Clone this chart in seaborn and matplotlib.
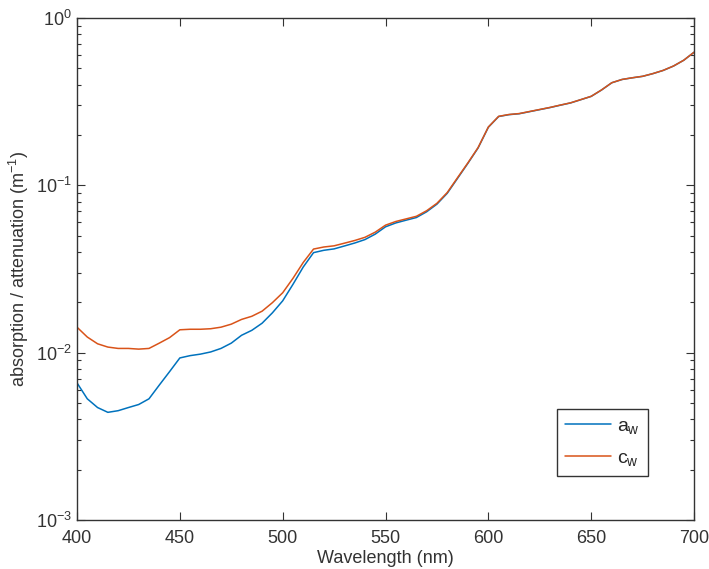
import numpy as np
import pandas as pd
import matplotlib
matplotlib.use("Agg")
from matplotlib import pyplot as plt
import seaborn as sns

wavelength = list(range(400, 705, 5))

a_w = [0.0066, 0.0053, 0.0047, 0.0044, 0.0045, 0.0047, 0.0049, 0.0053, 0.0064, 0.0077,
       0.0093, 0.0096, 0.0098, 0.0101, 0.0106, 0.0114, 0.0127, 0.0136, 0.0150, 0.0173,
       0.0204, 0.0256, 0.0325, 0.0396, 0.0409, 0.0417, 0.0434, 0.0452, 0.0474, 0.0511,
       0.0565, 0.0596, 0.0619, 0.0642, 0.0695, 0.0772, 0.0896, 0.110, 0.1351, 0.1672,
       0.2224, 0.2577, 0.2644, 0.2678, 0.2755, 0.2834, 0.2916, 0.3012, 0.3108, 0.325,
       0.340, 0.371, 0.410, 0.429, 0.439, 0.448, 0.465, 0.486, 0.516, 0.559, 0.624]

c_w = [0.0142, 0.0124, 0.0113, 0.0108, 0.0106, 0.0106, 0.0105, 0.0106, 0.0114, 0.0123,
       0.0137, 0.0138, 0.0138, 0.0139, 0.0142, 0.0148, 0.0158, 0.0165, 0.0177, 0.0199,
       0.0228, 0.0278, 0.0346, 0.0416, 0.0428, 0.0435, 0.0451, 0.0468, 0.0489, 0.0525,
       0.0578, 0.0608, 0.0630, 0.0653, 0.0705, 0.0781, 0.0905, 0.111, 0.1359, 0.1680,
       0.2231, 0.2584, 0.2650, 0.2684, 0.2761, 0.2840, 0.2921, 0.3017, 0.3112, 0.3254,
       0.3404, 0.3714, 0.4103, 0.4293, 0.4393, 0.4483, 0.4653, 0.4863, 0.5163, 0.5593, 0.6243]

series_names = ["$a_w$", "$c_w$"]
series_colors = ["#0072BD", "#D95319"]

df = pd.DataFrame({
    "wavelength": wavelength * 2,
    "value": a_w + c_w,
    "series": [series_names[0]] * len(a_w) + [series_names[1]] * len(c_w),
})

sns.set_style("ticks")
plt.rcParams['font.family'] = ['Liberation Sans', 'DejaVu Sans']
plt.rcParams['mathtext.fontset'] = 'custom'
plt.rcParams['mathtext.rm'] = 'Liberation Sans'
plt.rcParams['mathtext.it'] = 'Liberation Sans'

fig = plt.figure(figsize=(7.09, 5.69), dpi=100)
ax = fig.add_axes([0.1086, 0.0861, 0.8703, 0.8823])

sns.lineplot(data=df, x="wavelength", y="value", hue="series",
             palette=dict(zip(series_names, series_colors)), linewidth=1.1, ax=ax)

ax.set_yscale("log")
ax.set_xlim(400, 700)
ax.set_ylim(1e-3, 1)
ax.set_xticks(range(400, 701, 50))
ax.set_xlabel("Wavelength (nm)", fontsize=13, color="#333333", labelpad=2)
ax.set_ylabel("absorption / attenuation (m$^{-1}$)", fontsize=13, color="#333333",
              labelpad=4)

ax.tick_params(which="both", direction="in", top=True, right=True, labelsize=13,
               colors="#333333")
ax.tick_params(axis="x", pad=7)
ax.tick_params(which="major", length=6, width=0.8)
ax.tick_params(which="minor", length=3, width=0.8)
for s in ax.spines.values():
    s.set_visible(True)
    s.set_linewidth(1.0)
    s.set_color("#333333")

leg = ax.legend(loc="lower right", bbox_to_anchor=(0.925, 0.088), fontsize=14,
                handlelength=2.4, handletextpad=0.3, frameon=True, fancybox=False,
                borderpad=0.4, labelspacing=0.7, borderaxespad=0)
leg.get_frame().set_edgecolor("black")
leg.get_frame().set_linewidth(1.0)
leg.set_title(None)

fig.savefig("out.png", dpi=100)
